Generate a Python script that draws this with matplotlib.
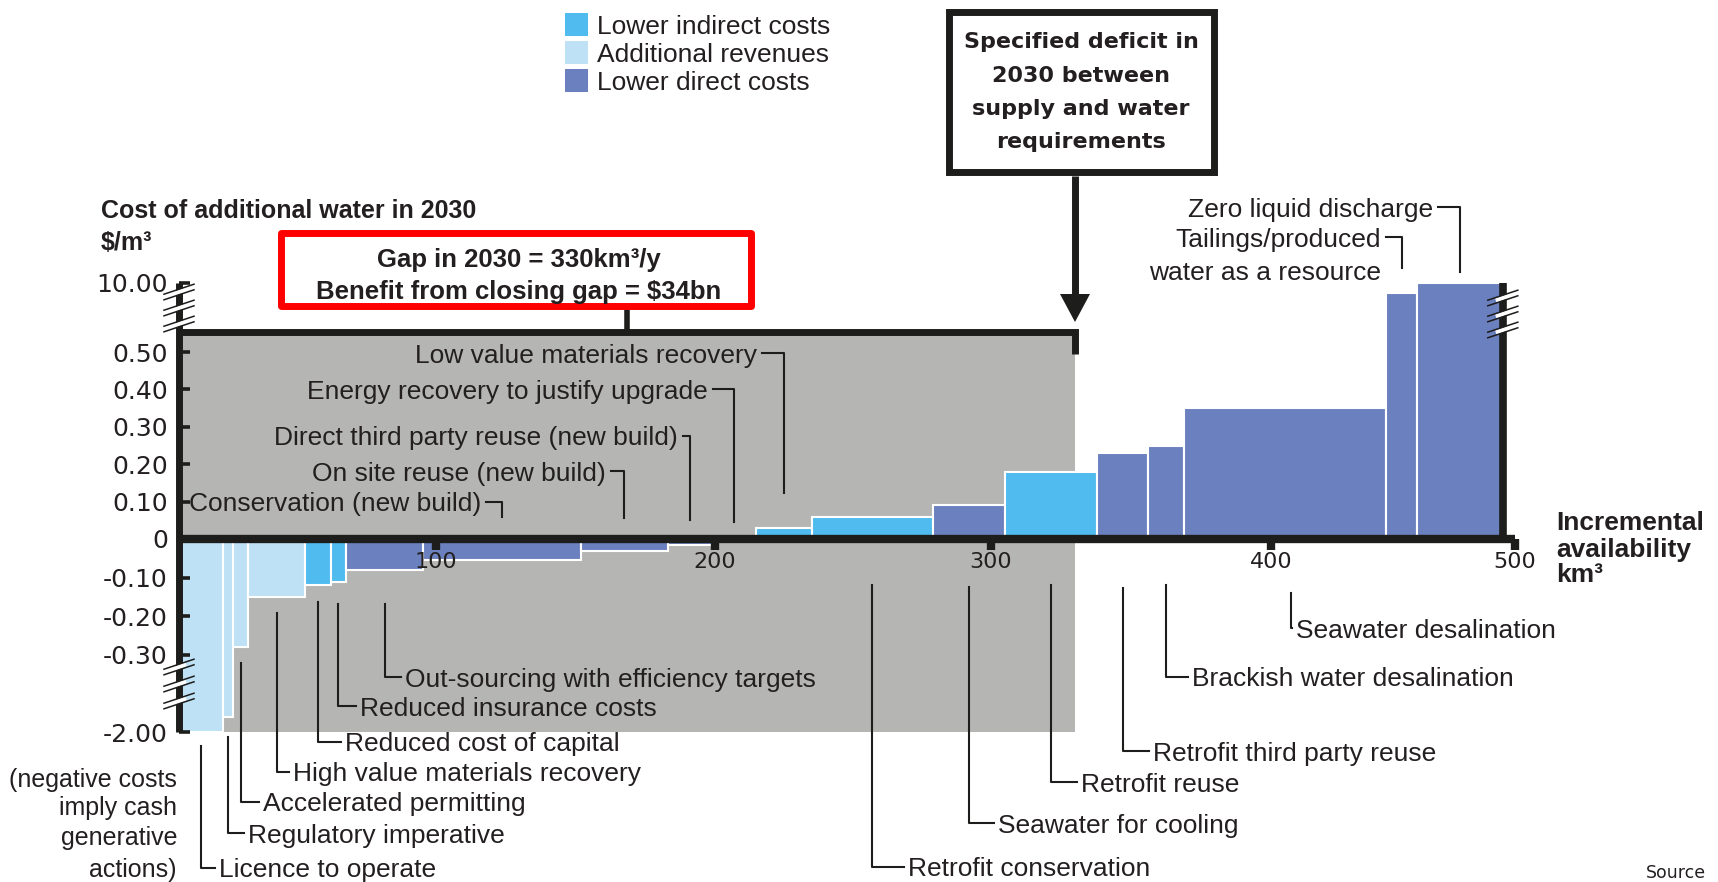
import numpy as np
import matplotlib.pyplot as plt
import matplotlib.transforms as mtransforms
from matplotlib.patches import Rectangle, Polygon

W, H = 1718, 882

# levers in merit order: volume in km3, cost in $/m3
levers = ["Licence to operate", "Regulatory imperative", "Accelerated permitting",
          "High value materials recovery", "Reduced cost of capital",
          "Reduced insurance costs", "Out-sourcing with efficiency targets",
          "Conservation (new build)", "On site reuse (new build)",
          "Direct third party reuse (new build)", "Energy recovery to justify upgrade",
          "Low value materials recovery", "Retrofit conservation", "Seawater for cooling",
          "Retrofit reuse", "Retrofit third party reuse", "Brackish water desalination",
          "Seawater desalination", "Tailings/produced\nwater as a resource",
          "Zero liquid discharge"]
volume = [17, 4, 6, 22, 10, 6, 30, 57, 31, 16, 16, 20, 44, 26, 33, 18, 13, 78, 13, 35]
cost = [-2.00, -1.67, -0.28, -0.15, -0.12, -0.11, -0.08, -0.055, -0.03, -0.015, -0.008,
        0.03, 0.06, 0.09, 0.18, 0.23, 0.25, 0.35, 8.6, 10.0]
kind = ["rev", "rev", "rev", "rev", "ind", "ind", "dir", "dir", "dir", "dir", "dir",
        "ind", "ind", "dir", "ind", "dir", "dir", "dir", "dir", "dir"]
gap = 330
benefit_bn = 34

x_ticks = [100, 200, 300, 400, 500]
y_ticks = [-2.0, -0.3, -0.2, -0.1, 0, 0.1, 0.2, 0.3, 0.4, 0.5, 10.0]
y_tick_labels = ["-2.00", "-0.30", "-0.20", "-0.10", "0", "0.10", "0.20", "0.30",
                 "0.40", "0.50", "10.00"]

palette = {"ind": "#4fbbee", "rev": "#bee1f6", "dir": "#6b80be"}
legend_names = {"ind": "Lower indirect costs", "rev": "Additional revenues",
                "dir": "Lower direct costs"}
INK = "#1d1d1b"
TEXT = "#231f20"
GREY = "#b5b6b4"

# both axes carry breaks, so the scales are piecewise linear; the knots put
# the plot area straight onto the canvas pixel grid
x_knots = [-100, 0, 100, 200, 300, 400, 500, 700]
x_pix = [-78, 179, 436, 715, 991, 1271, 1515, 2003]
y_knots = [-30, -2.0, -0.3, 0, 0.5, 10.0, 200]
y_pix = [H - p for p in (2000, 732, 655, 539, 352, 283, -1097)]


def fx(v):
    return np.interp(v, x_knots, x_pix)


def fx_inv(p):
    return np.interp(p, x_pix, x_knots)


def fy(v):
    return np.interp(v, y_knots, y_pix)


def fy_inv(p):
    return np.interp(p, y_pix, y_knots)


plt.rcParams['font.family'] = ['Liberation Sans', 'DejaVu Sans']
fig = plt.figure(figsize=(W / 100, H / 100), dpi=100)
ax = fig.add_axes([0, 0, 1, 1])
ax.set_xscale('function', functions=(fx, fx_inv))
ax.set_yscale('function', functions=(fy, fy_inv))
ax.set_xlim(fx_inv(0), fx_inv(W))
ax.set_ylim(fy_inv(0), fy_inv(H))
ax.patch.set_visible(False)

# canvas pixels counted from the top-left corner, for the annotation layer
pix = mtransforms.Affine2D().scale(1 / W, -1 / H).translate(0, 1) + fig.transFigure
xd = mtransforms.blended_transform_factory(ax.transData, pix)

lefts = np.concatenate([[0], np.cumsum(volume)[:-1]])
centres = lefts + np.array(volume) / 2
total = lefts[-1] + volume[-1]


def px(v):
    return ax.transData.transform((v, 0))[0]


# shaded gap block and its bracket
ax.add_patch(Rectangle((0, 332), gap, 400, transform=xd, facecolor=GREY,
                       edgecolor='none', zorder=0))
ax.plot([0, gap, gap], [332, 332, 354], transform=xd, color=INK, lw=5,
        solid_joinstyle='miter', solid_capstyle='butt', zorder=4)

ax.bar(lefts, cost, width=volume, align='edge', color=[palette[k] for k in kind],
       edgecolor='white', linewidth=1.5, zorder=2)

# axes
for side in ('top', 'right'):
    ax.spines[side].set_visible(False)
ax.spines['left'].set_position(('data', 0))
ax.spines['left'].set_bounds(y_ticks[0], y_ticks[-1])
ax.spines['left'].set_linewidth(5)
ax.spines['left'].set_color(INK)
ax.spines['bottom'].set_position(('data', 0))
ax.spines['bottom'].set_bounds(0, x_ticks[-1])
ax.spines['bottom'].set_linewidth(6)
ax.spines['bottom'].set_color(INK)
for sp in ax.spines.values():
    sp.set_zorder(4)
    sp.set_capstyle('butt')
ax.xaxis.set_zorder(4.5)
ax.yaxis.set_zorder(4.5)
ax.set_yticks(y_ticks, y_tick_labels)
ax.set_xticks(x_ticks, [str(v) for v in x_ticks])
ax.tick_params(axis='y', direction='in', length=8, width=2.6, pad=8, labelsize=18,
               color=INK, labelcolor=TEXT, labelfontfamily='DejaVu Sans')
ax.tick_params(axis='x', direction='out', length=8, width=6, pad=1, labelsize=16,
               color=INK, labelcolor=TEXT, labelfontfamily='DejaVu Sans')
ax.plot([total, total], [0, cost[-1]], color=INK, lw=5.5, solid_capstyle='butt', zorder=4)


def axis_break(x, ys):
    for y in ys:
        ax.plot([x - 7, x + 7], [y + 2.5, y - 2.5], transform=pix, color='white',
                lw=3.2, solid_capstyle='butt', zorder=5)
        for off in (-2.8, 2.8):
            ax.plot([x - 15, x + 15], [y + 5 + off, y - 5 + off], transform=pix,
                    color=INK, lw=1.1, zorder=5)


axis_break(px(0), [292, 308, 324])
axis_break(px(0), [667, 684, 701])
axis_break(px(total), [298, 314, 330])


def label(x, y, s, ha='left', size=19, weight='normal', family=None):
    kw = {} if family is None else {'family': family}
    ax.text(x, y, s, transform=pix, ha=ha, va='center_baseline', fontsize=size,
            fontweight=weight, color=TEXT, zorder=6, **kw)


# labels hanging below the chart: leader top, text row, text start
below = {
    "Licence to operate": (746, 868, 219),
    "Regulatory imperative": (737, 833, 248),
    "Accelerated permitting": (663, 802, 263),
    "High value materials recovery": (613, 772, 293),
    "Reduced cost of capital": (602, 742, 345),
    "Reduced insurance costs": (604, 706, 360),
    "Out-sourcing with efficiency targets": (604, 677, 405),
    "Retrofit conservation": (585, 867, 908),
    "Seawater for cooling": (587, 823, 998),
    "Retrofit reuse": (585, 782, 1081),
    "Retrofit third party reuse": (588, 751, 1153),
    "Brackish water desalination": (585, 677, 1192),
    "Seawater desalination": (593, 628, 1296),
}
for name, (y0, y1, tx) in below.items():
    cx = px(centres[levers.index(name)])
    ax.plot([cx, cx, tx - 4], [y0, y1, y1], transform=pix, color=INK, lw=1.5, zorder=5)
    label(tx, y1, name)

# labels above the bars: text end, text row, leader foot
above = {
    "Conservation (new build)": (481, 502, 517),
    "On site reuse (new build)": (606, 471, 518),
    "Direct third party reuse (new build)": (678, 436, 520),
    "Energy recovery to justify upgrade": (708, 389, 522),
    "Low value materials recovery": (757, 353, 493),
    "Tailings/produced\nwater as a resource": (1381, 237, 268),
    "Zero liquid discharge": (1433, 207, 272),
}
for name, (tx, y1, y0) in above.items():
    cx = px(centres[levers.index(name)])
    ax.plot([tx + 5, cx, cx], [y1, y1, y0], transform=pix, color=INK, lw=1.5, zorder=5)
    for j, line in enumerate(name.split("\n")):
        label(tx, y1 + 33 * j, line, ha='right')

for j, line in enumerate(["(negative costs", "imply cash", "generative", "actions)"]):
    label(177, [777, 806, 836, 868][j], line, ha='right', size=18)

# legend
for j, k in enumerate(["ind", "rev", "dir"]):
    yc = 24.5 + 28 * j
    ax.add_patch(Rectangle((565, yc - 11.5), 23, 23, transform=pix,
                           facecolor=palette[k], edgecolor='none', zorder=5))
    label(597, yc, legend_names[k])

# axis titles
label(101, 208, "Cost of additional water in 2030", size=18, weight='bold')
label(101, 241, "$/m³", size=18, weight='bold')
for j, line in enumerate(["Incremental", "availability", "km³"]):
    label(1556, 521 + 26 * j, line, size=19, weight='bold')

# gap call-out
ax.add_patch(Rectangle((280.5, 233), 470, 73, transform=pix, fill=False,
                       edgecolor='#ff0000', lw=5, joinstyle='round', zorder=5))
label(519, 257, f"Gap in 2030 = {gap}km³/y", ha='center', size=18.5, weight='bold')
label(519, 289, f"Benefit from closing gap = \\${benefit_bn}bn", ha='center',
      size=18.5, weight='bold')
mid = (px(0) + px(gap)) / 2
ax.plot([mid, mid], [307, 332], transform=pix, color=INK, lw=4, zorder=4)

# deficit box and arrow down to the end of the gap
ax.add_patch(Rectangle((948.5, 11.5), 265, 160, transform=pix, fill=False,
                       edgecolor=INK, lw=5, joinstyle='miter', zorder=5))
for j, line in enumerate(["Specified deficit in", "2030 between",
                          "supply and water", "requirements"]):
    label(1081, 40 + 33.5 * j, line, ha='center', size=16, weight='bold',
          family='DejaVu Sans')
xg = px(gap)
ax.plot([xg, xg], [176, 298], transform=pix, color=INK, lw=5, solid_capstyle='butt',
        zorder=5)
ax.add_patch(Polygon([[xg - 15, 294], [xg + 15, 294], [xg, 322]], closed=True,
                     transform=pix, facecolor=INK, edgecolor='none', zorder=5))

ax.text(1646, 864, "Source", transform=pix, ha='left', va='top', fontsize=12.5,
        color=TEXT, family='DejaVu Sans')

fig.savefig("out.png", dpi=100)
